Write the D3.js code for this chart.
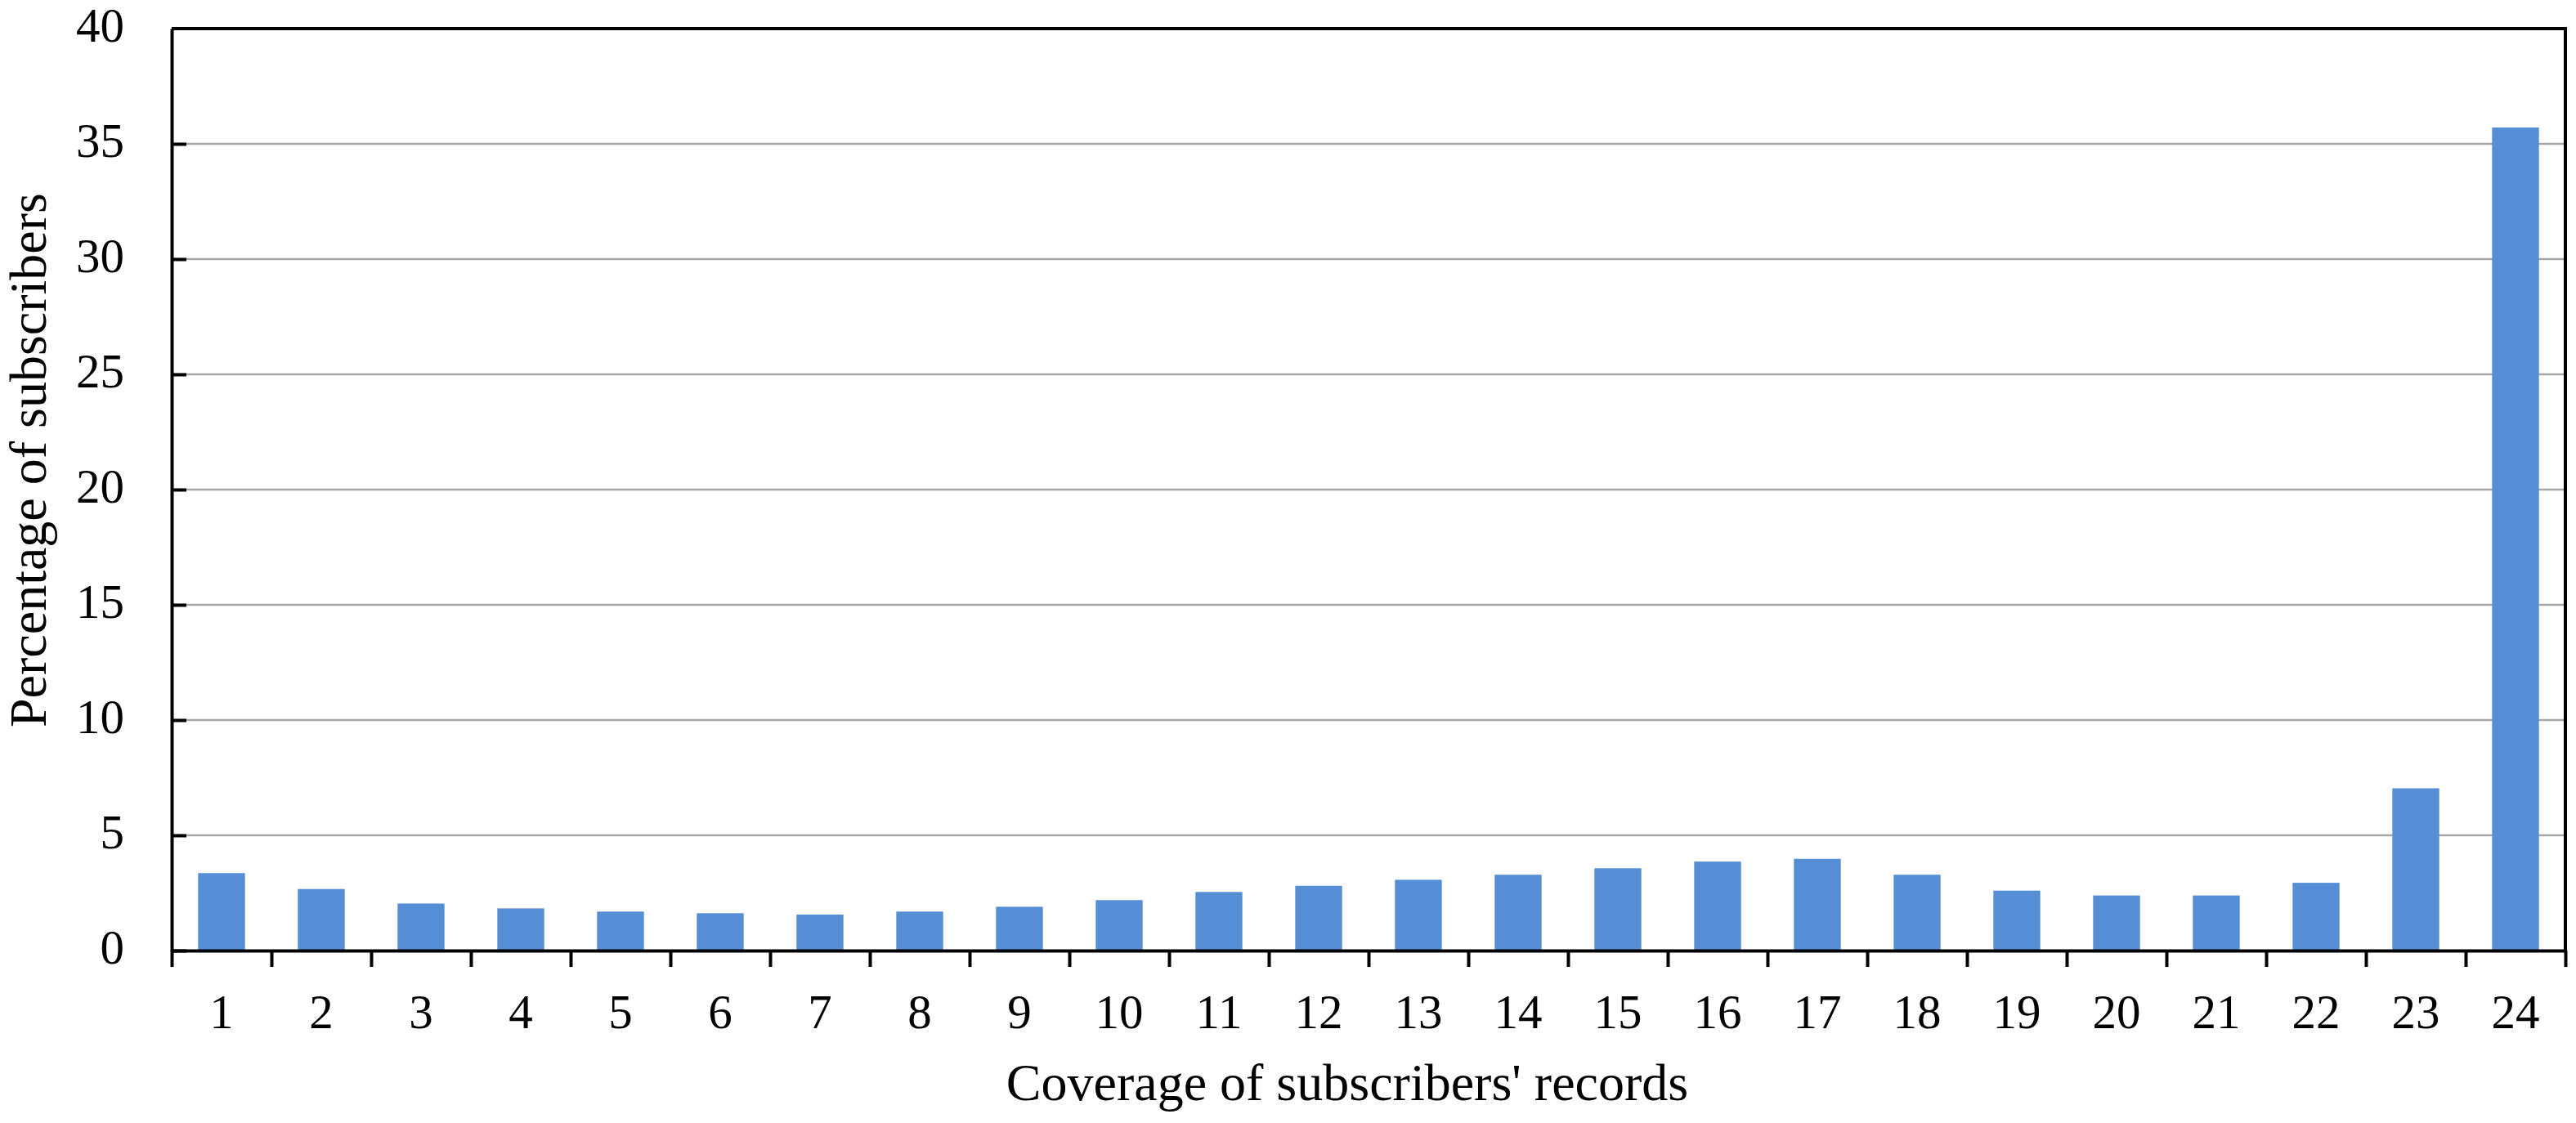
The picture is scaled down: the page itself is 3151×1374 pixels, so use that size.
<!DOCTYPE html>
<meta charset="utf-8">
<style>
body { margin: 0; background: white; }
text { font-family: "Liberation Serif", "Times New Roman", serif; fill: black; }
.grid line { stroke: #a6a6a6; stroke-width: 2.5px; }
.axis path, .axis line { stroke: black; stroke-width: 4px; }
</style>
<body>
<script src="https://d3js.org/d3.v7.min.js"></script>
<script>
var categories = ["1","2","3","4","5","6","7","8","9","10","11","12",
                  "13","14","15","16","17","18","19","20","21","22","23","24"];
var values = [3.36, 2.67, 2.04, 1.83, 1.69, 1.62, 1.56, 1.69, 1.90, 2.19, 2.54, 2.81,
              3.07, 3.29, 3.57, 3.86, 3.98, 3.29, 2.60, 2.39, 2.39, 2.94, 7.04, 35.71];
var yTicks = [0, 5, 10, 15, 20, 25, 30, 35, 40];

var width = 3151,
    height = 1374;
var margin = {left: 210, right: 13, top: 35, bottom: 211};

var svg = d3.select("body").append("svg")
    .attr("width", width)
    .attr("height", height);

var x = d3.scaleBand()
    .domain(categories)
    .range([margin.left, width - margin.right])
    .paddingInner(0.53)
    .paddingOuter(0.265);

// boundaries between categories for the tick marks
var xEdge = d3.scaleLinear()
    .domain([0, categories.length])
    .range([margin.left, width - margin.right]);

var y = d3.scaleLinear()
    .domain([0, 40])
    .range([height - margin.bottom, margin.top]);

// gridlines
svg.append("g")
    .attr("class", "grid")
    .selectAll("line")
    .data(yTicks.filter(function(d) { return d > 0 && d < 40; }))
    .enter().append("line")
    .attr("x1", margin.left)
    .attr("x2", width - margin.right)
    .attr("y1", function(d) { return y(d); })
    .attr("y2", function(d) { return y(d); });

// bars
svg.append("g")
    .selectAll("rect")
    .data(values)
    .enter().append("rect")
    .attr("x", function(d, i) { return x(categories[i]); })
    .attr("width", x.bandwidth())
    .attr("y", function(d) { return y(d); })
    .attr("height", function(d) { return y(0) - y(d); })
    .attr("fill", "#558ed5");

// top and right border
svg.append("path")
    .attr("d", "M" + margin.left + "," + y(40) + "H" + (width - margin.right) + "V" + y(0))
    .attr("fill", "none")
    .attr("stroke", "black")
    .attr("stroke-width", 4);

// y axis, ticks pointing inward
var yAxis = svg.append("g")
    .attr("class", "axis")
    .attr("transform", "translate(" + margin.left + ",0)")
    .call(d3.axisRight(y).tickValues(yTicks).tickSize(18).tickSizeOuter(0).tickFormat(""));
yAxis.selectAll(".tick").filter(function(d) { return d == 40; }).remove();

svg.append("g")
    .selectAll("text")
    .data(yTicks)
    .enter().append("text")
    .attr("x", margin.left - 58)
    .attr("y", function(d) { return y(d); })
    .attr("dy", "0.27em")
    .attr("text-anchor", "end")
    .style("font-size", "59px")
    .text(function(d) { return d; });

// x axis tick marks at category boundaries
svg.append("g")
    .attr("class", "axis")
    .attr("transform", "translate(0," + y(0) + ")")
    .call(d3.axisBottom(xEdge).tickValues(d3.range(0, categories.length + 1))
        .tickSize(20).tickSizeOuter(0).tickFormat(""));

// x labels
svg.append("g")
    .attr("transform", "translate(0," + y(0) + ")")
    .call(d3.axisBottom(x).tickSize(0).tickPadding(74))
    .call(function(g) { g.select(".domain").remove(); })
    .selectAll("text")
    .attr("dy", "0.35em")
    .style("font-size", "59px")
    .style("font-family", "'Liberation Serif', serif");

// axis titles
svg.append("text")
    .attr("x", (margin.left + width - margin.right) / 2 - 26)
    .attr("y", 1346)
    .attr("text-anchor", "middle")
    .style("font-size", "64px")
    .text("Coverage of subscribers' records");

svg.append("text")
    .attr("transform", "translate(56," + 563 + ") rotate(-90)")
    .attr("text-anchor", "middle")
    .style("font-size", "64px")
    .text("Percentage of subscribers");
</script>
</body>
